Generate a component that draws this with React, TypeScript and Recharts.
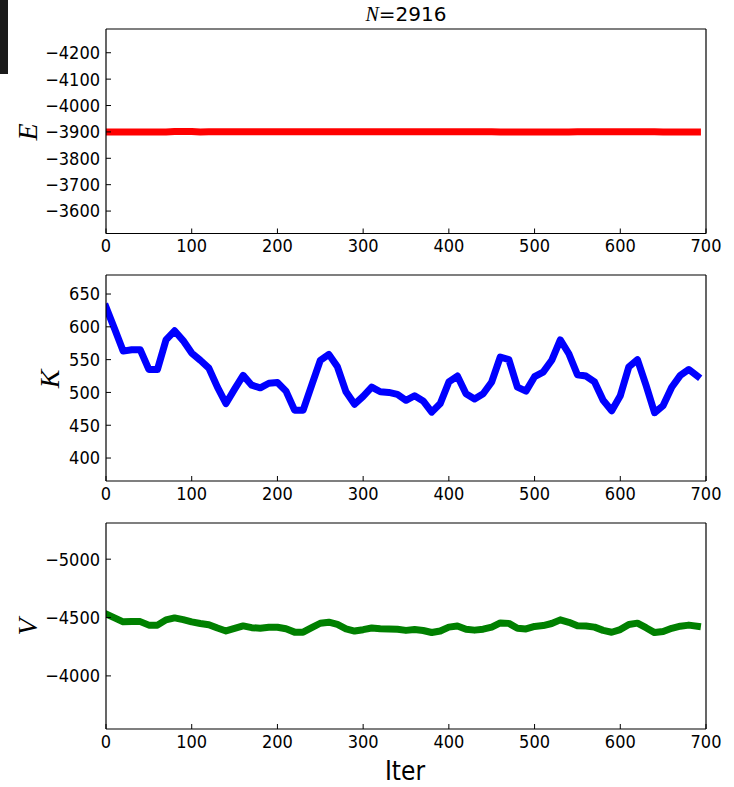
import React from 'react';
import { LineChart, Line, XAxis, YAxis } from 'recharts';

const ITERS = [0, 10, 20, 30, 40, 50, 60, 70, 80, 90, 100, 110, 120, 130, 140, 150, 160, 170, 180, 190, 200, 210, 220, 230, 240, 250, 260, 270, 280, 290, 300, 310, 320, 330, 340, 350, 360, 370, 380, 390, 400, 410, 420, 430, 440, 450, 460, 470, 480, 490, 500, 510, 520, 530, 540, 550, 560, 570, 580, 590, 600, 610, 620, 630, 640, 650, 660, 670, 680, 690];

const E_VALUES = [-3900, -3900, -3900, -3900, -3900, -3900, -3900, -3900, -3902, -3902, -3902, -3900, -3901, -3901, -3901, -3901, -3901, -3901, -3901, -3901, -3901, -3901, -3901, -3901, -3901, -3901, -3901, -3901, -3901, -3901, -3901, -3901, -3901, -3901, -3901, -3901, -3901, -3901, -3901, -3901, -3901, -3901, -3901, -3901, -3901, -3901, -3900, -3900, -3900, -3900, -3900, -3900, -3900, -3900, -3900, -3901, -3901, -3901, -3901, -3901, -3901, -3901, -3901, -3901, -3901, -3900, -3900, -3900, -3900, -3900];

const K_VALUES = [630, 597, 563, 565, 565, 535, 535, 580, 594, 579, 560, 549, 537, 508, 483, 505, 526, 511, 507, 514, 515, 502, 473, 473, 511, 549, 558, 539, 501, 482, 494, 508, 501, 500, 497, 488, 495, 487, 470, 483, 516, 525, 498, 490, 498, 516, 554, 550, 508, 502, 524, 531, 549, 580, 559, 527, 525, 516, 488, 472, 495, 539, 550, 511, 469, 480, 508, 526, 535, 525];

const V_VALUES = [-4530, -4497, -4463, -4465, -4465, -4435, -4435, -4480, -4497, -4482, -4463, -4449, -4439, -4410, -4385, -4407, -4428, -4413, -4409, -4416, -4417, -4404, -4375, -4375, -4413, -4451, -4460, -4441, -4403, -4384, -4396, -4410, -4403, -4402, -4399, -4390, -4397, -4389, -4372, -4385, -4418, -4427, -4400, -4392, -4400, -4418, -4454, -4450, -4408, -4402, -4424, -4431, -4449, -4480, -4459, -4429, -4427, -4418, -4390, -4374, -4397, -4441, -4452, -4413, -4371, -4380, -4408, -4426, -4435, -4425];

const X_TICKS = [0, 100, 200, 300, 400, 500, 600, 700];
const E_TICKS = [-4200, -4100, -4000, -3900, -3800, -3700, -3600];
const K_TICKS = [400, 450, 500, 550, 600, 650];
const V_TICKS = [-5000, -4500, -4000];

const data = ITERS.map((it, i) => ({ it, E: E_VALUES[i], K: K_VALUES[i], V: V_VALUES[i] }));

const W = 734;
const H = 787;
const TICK_FONT = "'DejaVu Sans Condensed', 'DejaVu Sans', sans-serif";
const fmt = (v: number) => (v < 0 ? '\u2212' + Math.abs(v) : String(v));

type PanelProps = {
  dataKey: string;
  color: string;
  top: number;
  bottom: number;
  domain: [number, number];
  ticks: number[];
  reversed: boolean;
};

function Panel({ dataKey, color, top, bottom, domain, ticks, reversed }: PanelProps) {
  const xH = 30;
  const tickStyle = { fill: '#000', fontSize: 18, fontFamily: TICK_FONT };
  const axisLine = { stroke: '#000', strokeWidth: 1.2 };
  const tickLine = { stroke: '#000', strokeWidth: 1 };
  return (
    <div style={{ position: 'absolute', left: 0, top: 0 }}>
      <LineChart
        width={W}
        height={H}
        data={data}
        margin={{ top: top - 1, right: 27, left: 0, bottom: H - bottom - xH }}
      >
        <XAxis
          xAxisId="b"
          dataKey="it"
          type="number"
          domain={[0, 700]}
          ticks={X_TICKS}
          allowDataOverflow
          height={xH}
          tickSize={-5}
          tickMargin={11}
          tick={tickStyle}
          axisLine={axisLine}
          tickLine={tickLine}
          interval={0}
        />
        <XAxis
          xAxisId="t"
          dataKey="it"
          type="number"
          orientation="top"
          domain={[0, 700]}
          ticks={X_TICKS}
          allowDataOverflow
          height={1}
          tickSize={-5}
          tick={false}
          axisLine={axisLine}
          tickLine={tickLine}
          interval={0}
        />
        <YAxis
          yAxisId="l"
          type="number"
          domain={domain}
          ticks={ticks}
          reversed={reversed}
          allowDataOverflow
          width={106}
          tickSize={-5}
          tickMargin={11}
          tick={tickStyle}
          tickFormatter={fmt}
          axisLine={axisLine}
          tickLine={tickLine}
          interval={0}
        />
        <YAxis
          yAxisId="r"
          type="number"
          orientation="right"
          domain={domain}
          ticks={ticks}
          reversed={reversed}
          allowDataOverflow
          width={1}
          tickSize={-5}
          tick={false}
          axisLine={axisLine}
          tickLine={tickLine}
          interval={0}
        />
        <Line
          xAxisId="b"
          yAxisId="l"
          type="linear"
          dataKey={dataKey}
          stroke={color}
          strokeWidth={7}
          strokeLinejoin="round"
          strokeLinecap="square"
          dot={false}
          activeDot={false}
          isAnimationActive={false}
        />
      </LineChart>
    </div>
  );
}

export default function App() {
  const serifItalic = { fontFamily: "'Liberation Serif', 'DejaVu Serif', serif", fontStyle: 'italic' as const };
  return (
    <div style={{ position: 'absolute', left: 0, top: 0, width: W, height: H, background: '#fff', overflow: 'hidden' }}>
      <div style={{ position: 'absolute', left: 0, top: 0, width: 8, height: 74, background: '#1a1a1a' }} />
      <Panel dataKey="E" color="#ff0000" top={29} bottom={233.5} domain={[-4290, -3515]} ticks={E_TICKS} reversed />
      <Panel dataKey="K" color="#0000ff" top={275} bottom={481} domain={[365, 679]} ticks={K_TICKS} reversed={false} />
      <Panel dataKey="V" color="#008000" top={523} bottom={729} domain={[-5310, -3545]} ticks={V_TICKS} reversed />
      <svg width={W} height={H} style={{ position: 'absolute', left: 0, top: 0, pointerEvents: 'none' }}>
        <text x={406} y={21} textAnchor="middle" fontSize={20} fill="#000" fontFamily="'DejaVu Sans', sans-serif">
          <tspan style={serifItalic}>N</tspan>
          <tspan fontFamily="'DejaVu Sans', sans-serif">=2916</tspan>
        </text>
        <text transform="translate(37,132) rotate(-90)" textAnchor="middle" fontSize={28} fill="#000" style={serifItalic}>E</text>
        <text transform="translate(59,379) rotate(-90)" textAnchor="middle" fontSize={28} fill="#000" style={serifItalic}>K</text>
        <text transform="translate(37,627) rotate(-90)" textAnchor="middle" fontSize={28} fill="#000" style={serifItalic}>V</text>
        <text x={405} y={780} textAnchor="middle" fontSize={26} fill="#000" fontFamily={TICK_FONT}>Iter</text>
      </svg>
    </div>
  );
}
